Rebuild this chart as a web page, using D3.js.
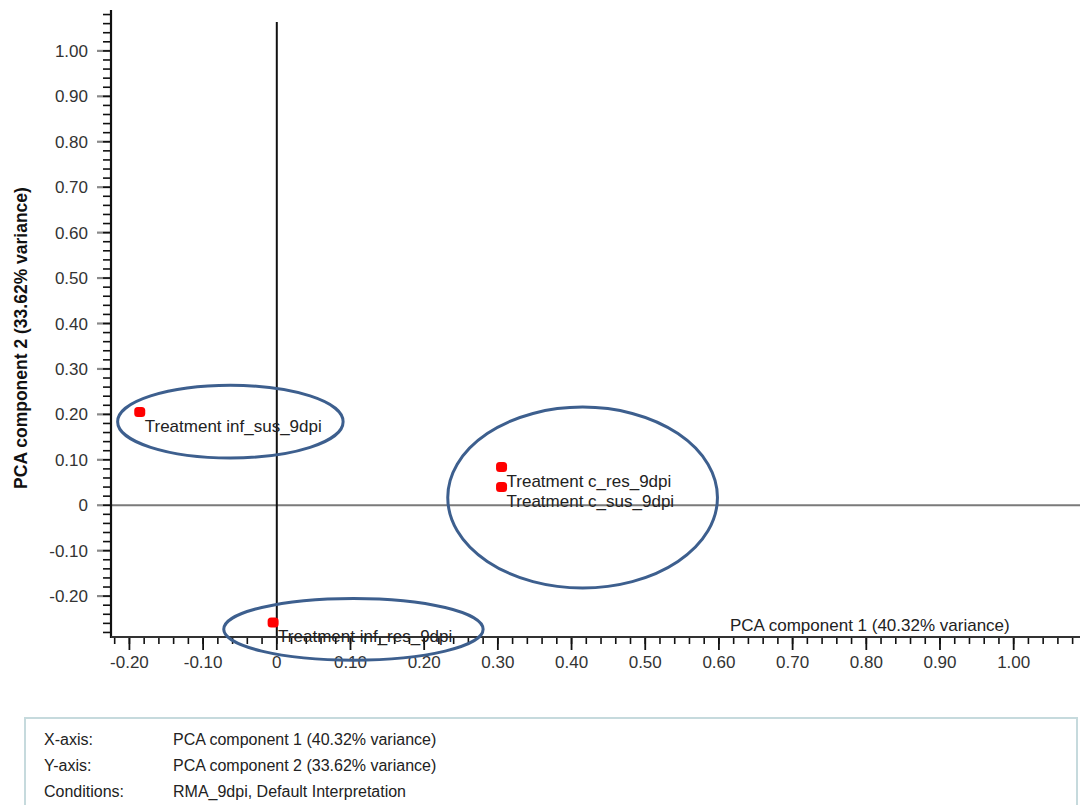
<!DOCTYPE html>
<html>
<head>
<meta charset="utf-8">
<script src="https://cdn.jsdelivr.net/npm/d3@7"></script>
<style>
  html, body { margin: 0; padding: 0; background: #fff; }
  svg { display: block; font-family: "Liberation Sans", Arial, sans-serif; }
</style>
</head>
<body>
<svg id="chart" width="1082" height="805"></svg>
<script>
// PCA scores of the four treatment groups (component 1, component 2)
const sampleNames = ["Treatment inf_sus_9dpi", "Treatment c_res_9dpi", "Treatment c_sus_9dpi", "Treatment inf_res_9dpi"];
const pc1Scores = [-0.186, 0.305, 0.305, -0.005];
const pc2Scores = [0.205, 0.084, 0.040, -0.258];

// Grouping ellipses in data units: centre (pc1, pc2) and radii
const groupCx = [-0.063, 0.415, 0.104];
const groupCy = [0.184, 0.017, -0.273];
const groupRx = [0.153, 0.183, 0.176];
const groupRy = [0.080, 0.199, 0.068];

// Axis ticks
const xMajorTicks = [-0.2, -0.1, 0, 0.1, 0.2, 0.3, 0.4, 0.5, 0.6, 0.7, 0.8, 0.9, 1.0];
const yMajorTicks = [-0.2, -0.1, 0, 0.1, 0.2, 0.3, 0.4, 0.5, 0.6, 0.7, 0.8, 0.9, 1.0];

const xTitle = "PCA component 1 (40.32% variance)";
const yTitle = "PCA component 2 (33.62% variance)";

// Info panel rows
const infoKeys = ["X-axis:", "Y-axis:", "Conditions:"];
const infoValues = ["PCA component 1 (40.32% variance)", "PCA component 2 (33.62% variance)", "RMA_9dpi, Default Interpretation"];

const svg = d3.select("#chart");

const x = d3.scaleLinear().domain([-0.225, 1.09]).range([111, 1080]);
const y = d3.scaleLinear().domain([-0.29, 1.09]).range([637, 10]);

const fmt = v => Math.abs(v) < 1e-9 ? "0" : d3.format(".2f")(v).replace("\u2212", "-");

// minor ticks every 0.02
const xMinor = d3.range(-0.22, 1.0801, 0.02);
const yMinor = d3.range(-0.28, 1.0801, 0.02);

const gAxes = svg.append("g");

// Y axis
gAxes.selectAll("line.ymaj").data(yMajorTicks).join("line")
  .attr("x1", x.range()[0] - 14).attr("x2", x.range()[0])
  .attr("y1", d => y(d)).attr("y2", d => y(d))
  .attr("stroke", "#8a8a8a").attr("stroke-width", 2.2);
gAxes.selectAll("line.ymin").data(yMinor).join("line")
  .attr("x1", x.range()[0] - 8).attr("x2", x.range()[0])
  .attr("y1", d => y(d)).attr("y2", d => y(d))
  .attr("stroke", "#111").attr("stroke-width", 1.6);
gAxes.selectAll("text.ylab").data(yMajorTicks).join("text")
  .attr("x", x.range()[0] - 23).attr("y", d => y(d) + 6)
  .attr("text-anchor", "end").attr("font-size", 17).attr("fill", "#333")
  .text(fmt);

// X axis
gAxes.selectAll("line.xmaj").data(xMajorTicks).join("line")
  .attr("x1", d => x(d)).attr("x2", d => x(d))
  .attr("y1", y.range()[0]).attr("y2", y.range()[0] + 13)
  .attr("stroke", "#111").attr("stroke-width", 1.8);
gAxes.selectAll("line.xmin").data(xMinor).join("line")
  .attr("x1", d => x(d)).attr("x2", d => x(d))
  .attr("y1", y.range()[0]).attr("y2", y.range()[0] + 7)
  .attr("stroke", "#111").attr("stroke-width", 1.6);
gAxes.selectAll("text.xlab").data(xMajorTicks).join("text")
  .attr("x", d => x(d)).attr("y", y.range()[0] + 31)
  .attr("text-anchor", "middle").attr("font-size", 17).attr("fill", "#333")
  .text(fmt);

// Zero reference lines
svg.append("line")
  .attr("x1", x.range()[0]).attr("x2", x.range()[1])
  .attr("y1", y(0)).attr("y2", y(0))
  .attr("stroke", "#7a7a7a").attr("stroke-width", 2);
svg.append("line")
  .attr("x1", x(0)).attr("x2", x(0))
  .attr("y1", y.range()[1] + 12).attr("y2", y.range()[0])
  .attr("stroke", "#111").attr("stroke-width", 2);

// Axis lines
svg.append("line")
  .attr("x1", x.range()[0]).attr("x2", x.range()[0])
  .attr("y1", y.range()[1]).attr("y2", y.range()[0] + 1)
  .attr("stroke", "#111").attr("stroke-width", 2.2);
svg.append("line")
  .attr("x1", x.range()[0]).attr("x2", x.range()[1])
  .attr("y1", y.range()[0]).attr("y2", y.range()[0])
  .attr("stroke", "#333").attr("stroke-width", 2.2);

// Axis titles
svg.append("text")
  .attr("x", 730).attr("y", y.range()[0] - 6)
  .attr("font-size", 17).attr("fill", "#222")
  .text(xTitle);
svg.append("text")
  .attr("transform", `translate(27, 338) rotate(-90)`)
  .attr("text-anchor", "middle").attr("font-size", 17.5).attr("font-weight", "bold").attr("fill", "#111")
  .text(yTitle);

// Group ellipses
svg.selectAll("ellipse.group").data(groupCx).join("ellipse")
  .attr("cx", (d, i) => x(groupCx[i]))
  .attr("cy", (d, i) => y(groupCy[i]))
  .attr("rx", (d, i) => x(groupRx[i]) - x(0))
  .attr("ry", (d, i) => y(0) - y(groupRy[i]))
  .attr("fill", "none").attr("stroke", "#3d5f8e").attr("stroke-width", 3);

// Sample points
const pts = sampleNames.map((name, i) => ({ name, pc1: pc1Scores[i], pc2: pc2Scores[i] }));
svg.selectAll("rect.pt").data(pts).join("rect")
  .attr("x", d => x(d.pc1) - 5.5).attr("y", d => y(d.pc2) - 5)
  .attr("width", 11).attr("height", 10).attr("rx", 3.5)
  .attr("fill", "#ff0000");
svg.selectAll("text.pt").data(pts).join("text")
  .attr("x", d => x(d.pc1) + 5).attr("y", d => y(d.pc2) + 20)
  .attr("font-size", 17).attr("fill", "#222")
  .text(d => d.name);

// Info panel
const panel = svg.append("g");
panel.append("rect")
  .attr("x", 25).attr("y", 718).attr("width", 1052).attr("height", 100)
  .attr("fill", "#fff").attr("stroke", "#c6dadd").attr("stroke-width", 2);
panel.selectAll("text.k").data(infoKeys).join("text")
  .attr("x", 44).attr("y", (d, i) => 745 + i * 26)
  .attr("font-size", 16).attr("fill", "#222").text(d => d);
panel.selectAll("text.v").data(infoValues).join("text")
  .attr("x", 173).attr("y", (d, i) => 745 + i * 26)
  .attr("font-size", 16).attr("fill", "#222").text(d => d);
</script>
</body>
</html>
